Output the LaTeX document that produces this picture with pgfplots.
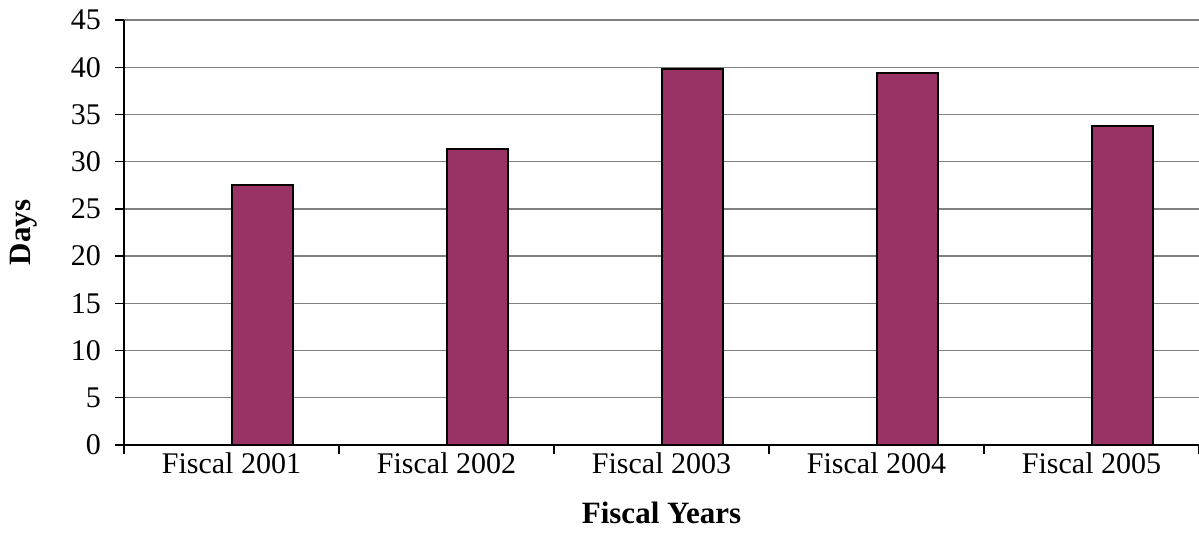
\documentclass[border=0pt]{standalone}
\usepackage{pgfplots}
\pgfplotsset{compat=1.18}
\usepackage{fontspec}
\setmainfont{Liberation Serif}
\definecolor{barc}{RGB}{153,51,102}
\definecolor{gridc}{RGB}{128,128,128}
\begin{document}
\begin{tikzpicture}
\begin{axis}[
  at={(0,0)}, anchor=south west,
  scale only axis, width=1075bp, height=425bp,
  xmin=0.5, xmax=5.5, ymin=0, ymax=45,
  axis x line*=bottom, axis y line*=left,
  axis line style={black, line width=1.3bp, -},
  ytick={0,5,10,15,20,25,30,35,40,45},
  xtick={0.5,1.5,2.5,3.5,4.5,5.5},
  xticklabels={Fiscal 2001,Fiscal 2002,Fiscal 2003,Fiscal 2004,Fiscal 2005,{}},
  tick align=outside, major tick length=9bp,
  tick style={black, line width=1.3bp},
  ymajorgrids, grid style={gridc, line width=1.3bp},
  /pgf/number format/assume math mode=true,
  tick label style={font=\fontsize{30bp}{35bp}\selectfont, inner sep=0pt},
  yticklabel style={anchor=east, xshift=-14bp},
  xticklabel style={anchor=base, xshift=107.5bp, yshift=-19bp},
  every axis y label/.style={at={(axis description cs:-0.093,0.5)}, rotate=90, anchor=center, font=\bfseries\fontsize{31bp}{36bp}\selectfont},
  every axis x label/.style={at={(axis description cs:0.5,-0.185)}, anchor=base, font=\bfseries\fontsize{31bp}{36bp}\selectfont},
  ylabel={Days},
  xlabel={Fiscal Years},
]
\addplot[ybar, fill=barc, draw=black, line width=2bp, bar width=0.287, bar shift=0.144]
  coordinates {(1,27.5) (2,31.3) (3,39.8) (4,39.4) (5,33.8)};
\end{axis}
\pgfresetboundingbox
\path[use as bounding box] (-124bp,-107bp) rectangle (1075bp,445bp);
\end{tikzpicture}
\end{document}
